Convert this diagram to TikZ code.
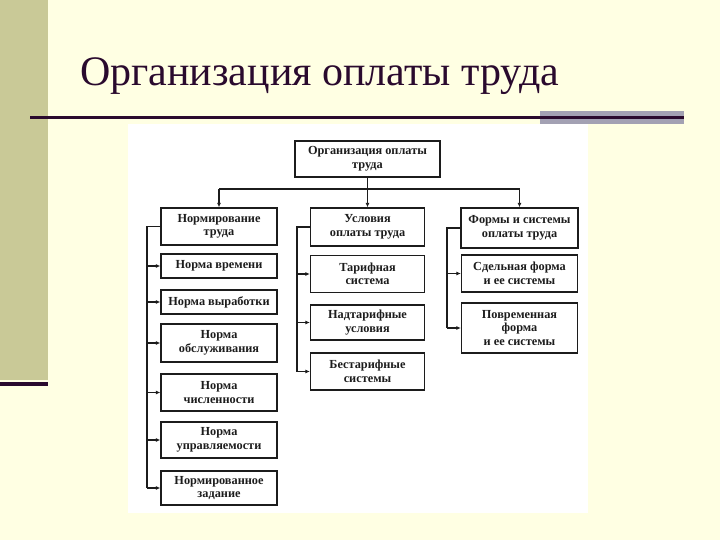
\documentclass[tikz,border=0pt]{standalone}
\usepackage{fontspec}
\setmainfont{Liberation Serif}
\usetikzlibrary{arrows.meta}
\definecolor{bgyellow}{HTML}{FFFFE3}
\definecolor{olivestrip}{HTML}{C9C997}
\definecolor{darkpurple}{HTML}{2A0A2E}
\definecolor{greybar}{HTML}{A3A1B3}
\definecolor{ink}{HTML}{1C1C1C}
\begin{document}
\begin{tikzpicture}[x=1pt,y=-1pt,
  box/.style={draw=ink, line width=1.3pt, fill=white, text=ink, inner sep=0pt, align=center,
    font=\bfseries\fontsize{12.3}{13.5}\selectfont},
  conn/.style={draw=ink, line width=1.1pt},
  arr/.style={conn, -{Latex[length=4.5pt,width=4pt]}}]
\useasboundingbox (0,0) rectangle (720,540);
\fill[bgyellow] (0,0) rectangle (720,540);
\fill[olivestrip] (0,0) rectangle (48,380);
\fill[darkpurple] (0,381.5) rectangle (48,385.5);
\fill[greybar] (540,111) rectangle (684,124);
\draw[darkpurple, line width=2.5pt] (30,117.5) -- (684,117.5);
\node[anchor=base west, inner sep=0pt, text=darkpurple, font=\fontsize{42}{48}\selectfont] (title) at (80,86) {Организация оплаты труда};
\fill[white] (128,124) rectangle (588,513);

% top
\node[box, minimum width=145pt, minimum height=36pt] (top) at (367.5,159) {Организация оплаты\\труда};
% left column
\node[box, minimum width=116pt, minimum height=37pt] (L1) at (219,226.5) {Нормирование\\труда};
\node[box, minimum width=116pt, minimum height=24pt] (L2) at (219,266) {Норма времени};
\node[box, minimum width=116pt, minimum height=24pt] (L3) at (219,302) {Норма выработки};
\node[box, minimum width=116pt, minimum height=38pt] (L4) at (219,343) {Норма\\обслуживания};
\node[box, minimum width=116pt, minimum height=37pt] (L5) at (219,392.5) {Норма\\численности};
\node[box, minimum width=116pt, minimum height=36pt] (L6) at (219,440) {Норма\\управляемости};
\node[box, minimum width=116pt, minimum height=34pt] (L7) at (219,488) {Нормированное\\задание};
% middle column
\node[box, minimum width=114pt, minimum height=38pt] (M1) at (367.5,227) {Условия\\оплаты труда};
\node[box, minimum width=114pt, minimum height=37pt] (M2) at (367.5,274) {Тарифная\\система};
\node[box, minimum width=114pt, minimum height=35pt] (M3) at (367.5,322.5) {Надтарифные\\условия};
\node[box, minimum width=114pt, minimum height=37pt] (M4) at (367.5,371.5) {Бестарифные\\системы};
% right column
\node[box, minimum width=117pt, minimum height=40pt] (R1) at (519.5,228) {Формы и системы\\оплаты труда};
\node[box, minimum width=116pt, minimum height=37pt] (R2) at (519.5,273.5) {Сдельная форма\\и ее системы};
\node[box, minimum width=116pt, minimum height=50pt] (R3) at (519.5,328) {Повременная\\форма\\и ее системы};

% top bus
\coordinate (busL) at (219,189);
\coordinate (busM) at (367.5,189);
\coordinate (busR) at (519.5,189);
\draw[conn] (top.south) -- (busM);
\draw[conn] (busL) -- (busR);
\draw[arr] (busL) -- (L1.north);
\draw[arr] (busM) -- (M1.north);
\draw[arr] (busR) -- (R1.north);

% left bus
\coordinate (lb) at (147,0);
\draw[conn] (L1.west) -- (L1.west -| lb) -- (L7.west -| lb);
\foreach \n in {L2,L3,L4,L5,L6,L7} \draw[arr] (\n.west -| lb) -- (\n.west);
% middle bus
\coordinate (mb) at (297,0);
\draw[conn] (M1.west) -- (M1.west -| mb) -- (M4.west -| mb);
\foreach \n in {M2,M3,M4} \draw[arr] (\n.west -| mb) -- (\n.west);
% right bus
\coordinate (rb) at (447,0);
\draw[conn] (R1.west) -- (R1.west -| rb) -- (R3.west -| rb);
\foreach \n in {R2,R3} \draw[arr] (\n.west -| rb) -- (\n.west);
\end{tikzpicture}
\end{document}
